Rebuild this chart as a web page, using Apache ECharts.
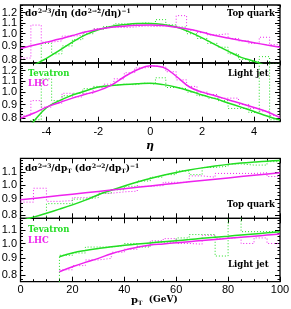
<!DOCTYPE html>
<html><head><meta charset="utf-8">
<script src="https://cdn.jsdelivr.net/npm/echarts@6/dist/echarts.min.js"></script>
<style>html,body{margin:0;padding:0;background:#fff}#c{width:291px;height:309px}</style>
</head><body><div id="c"></div><script>
// ---------- data ----------
const etaPts = [-5,-4.5,-4,-3.5,-3,-2.5,-2,-1.5,-1,-0.5,0,0.5,1,1.5,2,2.5,3,3.5,4,4.5,5];
const etaEdges = [-5,-4.6,-4.2,-3.8,-3.4,-3.0,-2.6,-2.2,-1.8,-1.4,-1.0,-0.6,-0.2,0.2,0.6,1.0,1.4,1.8,2.2,2.6,3.0,3.4,3.8,4.2,4.6,5.0];
// Top quark vs eta
const topEtaLHC   = [0.88,0.905,0.93,0.955,0.985,1.015,1.04,1.057,1.068,1.076,1.078,1.074,1.058,1.04,1.013,0.985,0.963,0.944,0.925,0.907,0.89];
const topEtaTev   = [0.70,0.76,0.808,0.865,0.93,0.99,1.035,1.065,1.082,1.092,1.093,1.083,1.06,1.016,0.965,0.91,0.86,0.815,0.788,0.755,0.72];
const topEtaLHCh  = [0.81,1.078,0.93,0.94,0.98,0.985,1.02,1.045,1.06,1.055,1.06,1.07,1.065,1.07,1.06,1.17,1.03,1.01,0.99,1.0,0.96,0.94,0.92,0.97,0.91];
const topEtaTevh  = [0.75,0.77,0.92,0.84,0.90,0.95,1.0,1.04,1.065,1.09,1.085,1.10,1.09,1.13,1.08,1.06,1.0,0.96,0.92,0.89,0.84,0.80,0.785,0.82,0.77];
// Light jet vs eta
const jetEtaLHC   = [0.80,0.835,0.88,0.915,0.95,0.982,1.013,1.062,1.14,1.21,1.252,1.235,1.145,1.047,1.0,0.97,0.937,0.907,0.877,0.846,0.805];
const jetEtaTev   = [0.68,0.777,0.875,0.93,0.975,1.01,1.044,1.057,1.067,1.074,1.079,1.066,1.043,1.012,0.975,0.946,0.912,0.88,0.848,0.816,0.788];
const jetEtaLHCh  = [0.82,0.93,0.88,0.91,0.99,0.96,0.99,1.04,1.07,1.12,1.18,1.23,1.25,1.24,1.19,1.11,1.05,1.0,0.98,0.95,0.95,0.90,0.87,0.85,0.82];
const jetEtaTevh  = [0.75,0.79,1.12,0.93,0.97,0.99,1.03,1.05,1.06,1.07,1.065,1.08,1.07,1.13,1.04,1.03,1.0,0.97,0.95,0.93,0.87,0.87,0.84,1.30,0.79];
// pT
const ptPts  = [0,5,10,15,20,25,30,35,40,45,50,55,60,65,70,75,80,85,90,95,100];
const ptPts10 = [0,10,20,30,40,50,60,70,80,90,100];
const ptEdges = [0,5,10,15,20,25,30,35,40,45,50,55,60,65,70,75,80,85,90,95,100];
const topPtTev  = [0.765,0.787,0.81,0.835,0.862,0.893,0.93,0.962,0.993,1.022,1.05,1.075,1.098,1.118,1.136,1.152,1.166,1.177,1.186,1.194,1.2];
const topPtLHC  = [0.895,0.914,0.934,0.953,0.973,0.993,1.013,1.034,1.054,1.075,1.096];
const topPtTevh = [0.70,0.75,0.87,0.87,0.90,0.91,0.94,0.965,0.99,1.03,1.06,1.08,1.11,1.08,1.14,1.15,1.17,1.16,1.16,1.19];
const topPtLHCh = [0.88,0.976,0.885,0.89,0.91,0.92,0.94,0.95,0.955,0.99,0.995,1.02,1.02,1.07,1.06,1.09,1.09,1.09,1.095,1.065];
const jetPtPts  = [15,20,25,30,35,40,45,50,55,60,65,70,75,80,85,90,95,100];
const jetPtTev  = [0.91,0.935,0.952,0.965,0.977,0.987,0.996,1.004,1.012,1.02,1.028,1.037,1.045,1.053,1.062,1.07,1.078,1.087];
const jetPtLHC  = [0.819,0.848,0.875,0.90,0.93,0.954,0.973,0.989,0.997,1.005,1.013,1.021,1.029,1.037,1.045,1.053,1.061,1.069];
const jetPtEdges = [15,20,25,30,35,40,45,50,55,60,65,70,75,80,85,90,95,100];
const jetPtTevh = [0.92,0.935,0.975,0.975,0.985,1.0,0.975,1.01,1.01,1.04,1.065,1.065,0.915,1.25,1.087,1.087,1.09];
const jetPtLHCh = [0.83,0.855,0.89,0.90,0.94,0.96,0.98,1.02,1.035,1.0,0.995,1.06,1.035,1.045,1.0,1.04,1.0];
// ticks
const etaLabels = [-4,-2,0,2,4];
const etaMinor = [-5,-4.5,-4,-3.5,-3,-2.5,-2,-1.5,-1,-0.5,0,0.5,1,1.5,2,2.5,3,3.5,4,4.5,5];
const ptLabels = [0,20,40,60,80,100];
const ptMinor = [0,5,10,15,20,25,30,35,40,45,50,55,60,65,70,75,80,85,90,95,100];
const yTicksTop = [0.8,0.9,1.0,1.1,1.2];
const yTicksBot = [0.8,0.9,1.0,1.1];
const yLabelsEvenTop = [0.8,1.0,1.2];
const yLabelsEvenBot = [0.8,1.0];
const yLabelsOdd = [0.9,1.1];
const yMinor = [0.775,0.8,0.825,0.85,0.875,0.9,0.925,0.95,0.975,1.0,1.025,1.05,1.075,1.1,1.125,1.15,1.175,1.2,1.225,1.25,1.275];

// ---------- layout ----------
const GREEN = '#22dd22', MAG = '#ee22ee';
const LEFT = 20.5, WIDTH = 259.5;
const grids = [{top:5,height:58},{top:63,height:58.7},{top:158.3,height:60},{top:218.3,height:63.4}];
const xRanges = [[-5,5],[-5,5],[0,100],[0,100]];
const yRanges = [[0.776,1.283],[0.777,1.282],[0.78,1.22],[0.763,1.195]];
const xMaj = [etaLabels, etaLabels, ptLabels, ptLabels];
const xMin = [etaMinor, etaMinor, ptMinor, ptMinor];
const xLab = [null, etaLabels, null, ptLabels];
const yTk = [yTicksTop, yTicksTop, yTicksBot, yTicksBot];
const yEven = [yLabelsEvenTop, yLabelsEvenTop, yLabelsEvenBot, yLabelsEvenBot];
const labelFont = {color:'#000', fontSize:11, fontFamily:'Liberation Sans, Arial, sans-serif'};

const xAxis = [], yAxis = [];
grids.forEach((g, gi) => {
  const mk = (pos, vals, len, labs, margin) => ({
    type:'value', gridIndex:gi, position:pos, min:xRanges[gi][0], max:xRanges[gi][1],
    axisLine:{show:false, onZero:false}, splitLine:{show:false},
    axisTick:{show:true, inside:true, length:len, customValues:vals, lineStyle:{color:'#000', width:1}},
    axisLabel: labs ? Object.assign({show:true, customValues:labs, margin:margin, hideOverlap:false}, labelFont) : {show:false}
  });
  xAxis.push(mk('bottom', xMaj[gi], 5, xLab[gi], gi===1?5:3));
  xAxis.push(mk('bottom', xMin[gi], 2.5, null));
  xAxis.push(mk('top', xMaj[gi], 5, null));
  xAxis.push(mk('top', xMin[gi], 2.5, null));
  const mky = (pos, vals, len, labs) => ({
    type:'log', logBase:10, gridIndex:gi, position:pos, min:yRanges[gi][0], max:yRanges[gi][1],
    axisLine:{show:false, onZero:false}, splitLine:{show:false}, minorTick:{show:false},
    axisTick:{show:true, inside:true, length:len, customValues:vals, lineStyle:{color:'#000', width:1}},
    axisLabel: labs ? Object.assign({show:true, customValues:labs, margin:3.5, hideOverlap:false, formatter:v=>Number(v).toFixed(1)}, labelFont) : {show:false}
  });
  yAxis.push(mky('left', yTk[gi], 5, yEven[gi]));
  yAxis.push(mky('left', yMinor, 2.5, yLabelsOdd));
  yAxis.push(mky('right', yTk[gi], 5, null));
  yAxis.push(mky('right', yMinor, 2.5, null));
});

const zip = (xs, ys) => ys.map((v, i) => [xs[i], v]);
const hist = (edges, vals) => vals.map((v, i) => [edges[i], v]).concat([[edges[edges.length-1], vals[vals.length-1]]]);

const series = [];
function addPanel(gi, xsLine, tev, xsLHC, lhc, edges, tevh, lhch, tevLead) {
  const base = {xAxisIndex:gi*4, yAxisIndex:gi*4, showSymbol:false, animation:false, clip:true, silent:true};
  let th = hist(edges, tevh);
  if (tevLead) th = [[edges[0], 0.7]].concat(th);
  series.push(Object.assign({type:'line', step:'end', data:hist(edges, lhch), lineStyle:{color:MAG, width:1, type:[1,2]}, z:2}, base));
  series.push(Object.assign({type:'line', step:'end', data:th, lineStyle:{color:GREEN, width:1, type:[1,2]}, z:2}, base));
  series.push(Object.assign({type:'line', smooth:0.4, data:zip(xsLine, tev), lineStyle:{color:GREEN, width:1.5}, z:3}, base));
  series.push(Object.assign({type:'line', smooth:0.4, data:zip(xsLHC, lhc), lineStyle:{color:MAG, width:1.5}, z:3}, base));
}
addPanel(0, etaPts, topEtaTev, etaPts, topEtaLHC, etaEdges, topEtaTevh, topEtaLHCh, false);
addPanel(1, etaPts, jetEtaTev, etaPts, jetEtaLHC, etaEdges, jetEtaTevh, jetEtaLHCh, false);
addPanel(2, ptPts, topPtTev, ptPts10, topPtLHC, ptEdges, topPtTevh, topPtLHCh, false);
addPanel(3, jetPtPts, jetPtTev, jetPtPts, jetPtLHC, jetPtEdges, jetPtTevh, jetPtLHCh, true);

const serif = 'DejaVu Serif, serif';
const rich = {
  a:{fontFamily:serif, fontWeight:'bold', fontSize:9, lineHeight:11, color:'#000'},
  s:{fontFamily:serif, fontWeight:'bold', fontSize:6, lineHeight:6, verticalAlign:'top', color:'#000'},
  b:{fontFamily:serif, fontWeight:'bold', fontSize:6, lineHeight:6, verticalAlign:'bottom', color:'#000'}
};
const txt = (x, y, text, color, align) => ({type:'text', x, y, silent:true, style:{text, fill:color||'#000', font:'bold 8.5px DejaVu Serif, serif', align:align||'left', verticalAlign:'middle'}});
const graphic = [
  {type:'text', x:25, y:14, silent:true, style:{text:'{a|dσ}{s|2→3}{a|/dη (dσ}{s|2→2}{a|/dη)}{s|−1}', rich, verticalAlign:'middle'}},
  {type:'text', x:25, y:169, silent:true, style:{text:'{a|dσ}{s|2→3}{a|/dp}{b|T}{a| (dσ}{s|2→2}{a|/dp}{b|T}{a|)}{s|−1}', rich, verticalAlign:'middle'}},
  txt(275, 14, 'Top quark', '#000', 'right'),
  txt(275, 205, 'Top quark', '#000', 'right'),
  txt(228, 74, 'Light jet'),
  txt(228, 265, 'Light jet'),
  txt(28, 74, 'Tevatron', GREEN),
  txt(28, 84, 'LHC', MAG),
  txt(28, 230, 'Tevatron', GREEN),
  txt(28, 241, 'LHC', MAG),
  {type:'text', x:150, y:146, silent:true, style:{text:'η', fill:'#000', font:'italic bold 11px DejaVu Serif, serif', align:'center', verticalAlign:'middle'}},
  {type:'text', x:131, y:300, silent:true, style:{text:'{p|p}{t|T}{g|  (GeV)}', verticalAlign:'middle',
    rich:{p:{fontFamily:serif, fontWeight:'bold', fontSize:10, lineHeight:12}, t:{fontFamily:serif, fontWeight:'bold', fontSize:6, lineHeight:7, verticalAlign:'bottom'}, g:{fontFamily:serif, fontWeight:'bold', fontSize:9, lineHeight:12}}}}
];

const chart = echarts.init(document.getElementById('c'), null, {renderer:'canvas'});
chart.setOption({
  animation:false,
  grid: grids.map(g => ({left:LEFT, width:WIDTH, top:g.top, height:g.height, show:true, borderColor:'#000', borderWidth:1.3, backgroundColor:'transparent', outerBoundsMode:'none', containLabel:false})),
  xAxis, yAxis, series, graphic
});
</script></body></html>
